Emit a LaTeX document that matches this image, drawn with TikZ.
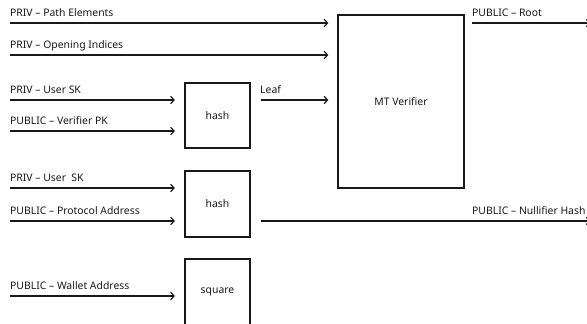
\documentclass[tikz,border=0pt]{standalone}
\usepackage{fontspec}
\setmainfont{Noto Sans}
\usetikzlibrary{arrows.meta,calc}
\begin{document}
\begin{tikzpicture}[x=1pt,y=-1pt,
  every node/.style={font=\fontsize{10.4}{12}\selectfont, text=black!90},
  blk/.style={draw=black!90, line width=1.3pt, inner sep=0pt},
  sig/.style={draw=black!90, line width=1.2pt, -{Straight Barb[length=3.4pt,width=7.5pt,line width=1.2pt]}},
  lbl/.style={anchor=base west, inner sep=0pt}]
\useasboundingbox (0,0) rectangle (587,324);

% blocks
\node[blk, minimum width=65pt, minimum height=65pt] (h1) at (217.5,115.5) {hash};
\node[blk, minimum width=126pt, minimum height=173pt] (mt) at (401,101.5) {MT Verifier};
\node[blk, minimum width=65pt, minimum height=66pt] (h2) at (217.5,204) {hash};
\node[blk, minimum width=65pt, minimum height=66pt] (sq) at (217.5,292) {square};

% input starts
\coordinate (pe) at (10,23);
\coordinate (oi) at (10,55);
\coordinate (sk1) at (10,100);
\coordinate (vpk) at (10,131);
\coordinate (sk2) at (10,188);
\coordinate (pa) at (10,221);
\coordinate (wa) at (10,296);
\coordinate (rootend) at (590.5,23);
\coordinate (nullend) at (590.5,221);

% labels
\node[lbl] at ($(pe)+(0,-6.5)$) {PRIV – Path Elements};
\node[lbl] at ($(oi)+(0,-6.5)$) {PRIV – Opening Indices};
\node[lbl] at ($(sk1)+(0,-6.5)$) {PRIV – User SK};
\node[lbl] at ($(vpk)+(0,-6.5)$) {PUBLIC – Verifier PK};
\node[lbl] at ($(sk2)+(0,-6.5)$) {PRIV – User\ \ SK};
\node[lbl] at ($(pa)+(0,-6.5)$) {PUBLIC – Protocol Address};
\node[lbl] at ($(wa)+(0,-6.5)$) {PUBLIC – Wallet Address};
\node[lbl] at (260,93.5) {Leaf};
\node[lbl] at (472,16.5) {PUBLIC – Root};
\node[lbl] at (472,214.5) {PUBLIC – Nullifier Hash};

% connectors
\draw[sig, shorten >=9pt] (pe) -- (pe -| mt.west);
\draw[sig, shorten >=9pt] (oi) -- (oi -| mt.west);
\draw[sig, shorten >=9.5pt] (sk1) -- (sk1 -| h1.west);
\draw[sig, shorten >=9.5pt] (vpk) -- (vpk -| h1.west);
\draw[sig, shorten >=9pt, shorten <=10pt] (h1.east |- sk1) -- (sk1 -| mt.west);
\draw[sig, shorten >=9.5pt] (sk2) -- (sk2 -| h2.west);
\draw[sig, shorten >=9.5pt] (pa) -- (pa -| h2.west);
\draw[sig, shorten >=9.5pt] (wa) -- (wa -| sq.west);
\draw[sig, shorten <=7pt] (mt.east |- rootend) -- (rootend);
\draw[sig, shorten <=10pt] (h2.east |- nullend) -- (nullend);
\end{tikzpicture}
\end{document}
